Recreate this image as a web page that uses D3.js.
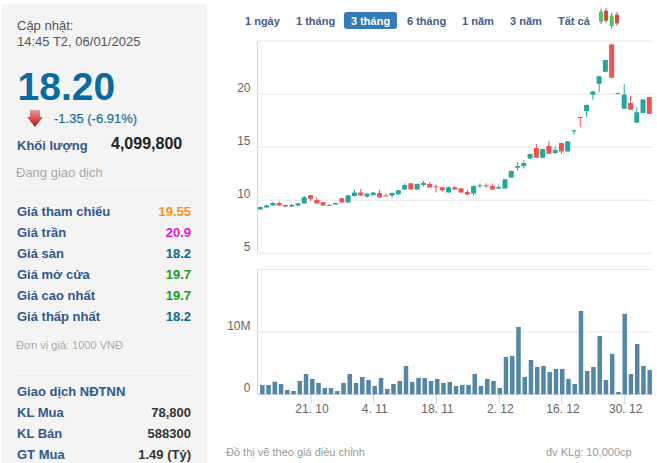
<!DOCTYPE html>
<html>
<head>
<meta charset="utf-8">
<style>
body { margin: 0; background: #fff; }
svg { display: block; font-family: "Liberation Sans", Arial, sans-serif; }
</style>
</head>
<body>
<svg width="657" height="463"></svg>
<script src="https://d3js.org/d3.v7.min.js"></script>
<script>

// sessions, 9.10.2024 - 6.1.2025
var dates = ["9. 10","10. 10","11. 10","14. 10","15. 10","16. 10","17. 10","18. 10","21. 10","22. 10","23. 10","24. 10","25. 10",
    "28. 10","29. 10","30. 10","31. 10","1. 11","4. 11","5. 11","6. 11","7. 11","8. 11","11. 11","12. 11","13. 11","14. 11","15. 11",
    "18. 11","19. 11","20. 11","21. 11","22. 11","25. 11","26. 11","27. 11","28. 11","29. 11","2. 12","3. 12","4. 12","5. 12","6. 12",
    "9. 12","10. 12","11. 12","12. 12","13. 12","16. 12","17. 12","18. 12","19. 12","20. 12","23. 12","24. 12","25. 12","26. 12","27. 12",
    "30. 12","31. 12","2. 1","3. 1","6. 1"];
var opens = [9.12,9.31,9.5,9.75,9.56,9.4,9.5,9.69,10.47,10.03,9.81,9.56,9.6,10.19,9.78,10.4,10.72,10.34,10.47,10.69,10.44,10.44,10.56,11.0,11.6,11.0,11.44,11.54,
    11.32,11.22,10.72,11.22,11.13,10.78,10.63,11.32,11.41,11.35,11.1,11.1,12.13,13.07,13.23,13.92,14.92,14.01,15.1,14.45,15.39,14.58,16.52,17.84,18.4,19.94,20.97,22.1,24.67,
    20.1,18.62,19.15,17.3,18.21,19.72];
var closes = [9.37,9.53,9.75,9.5,9.4,9.56,9.72,10.28,10.13,9.69,9.5,9.5,9.75,9.78,10.47,10.72,10.44,10.63,10.72,10.25,10.38,10.69,10.94,11.44,11.0,11.54,11.63,11.19,
    11.25,10.94,11.22,11.0,10.72,10.53,11.35,11.41,11.32,11.0,11.25,11.97,12.76,13.23,13.5,14.36,14.01,14.83,14.39,14.73,14.58,15.55,16.6,17.74,18.97,20.25,21.69,23.2,21.54,
    20.03,19.97,18.53,18.28,19.5,18.15];
var highs = [9.4,9.55,9.85,9.9,9.58,9.65,9.74,10.4,10.5,10.28,9.83,9.65,9.77,10.21,10.49,10.97,11.07,10.65,10.8,10.97,10.66,10.71,10.97,11.6,11.62,11.56,11.82,11.72,
    11.47,11.24,11.3,11.35,11.15,10.97,11.37,11.57,11.6,11.57,11.47,11.99,12.78,13.6,13.79,14.38,15.3,14.85,15.58,15.08,15.41,15.57,16.62,17.86,18.99,20.27,21.71,23.22,24.75,
    20.12,20.94,19.81,18.75,19.52,19.74];
var lows = [9.1,9.29,9.5,9.48,9.38,9.37,9.4,9.67,9.94,9.67,9.48,9.47,9.58,9.76,9.76,10.34,10.42,10.22,10.44,10.23,10.36,10.25,10.5,10.98,10.98,10.98,11.29,11.17,
    10.72,10.82,10.7,10.98,10.7,10.51,10.44,11.16,11.16,10.98,11.08,11.08,12.11,12.79,12.98,13.9,13.99,13.99,14.37,14.36,14.36,14.56,16.18,16.9,17.84,19.47,20.19,22.08,21.52,
    20.01,18.6,18.51,17.28,18.19,18.13];
var volumes = [1.5,1.5,2.0,1.66,0.7,0.53,2.14,3.26,2.46,1.82,1.0,1.0,0.53,1.82,3.26,1.82,2.78,2.3,1.34,2.62,0.86,1.66,2.14,4.55,1.98,2.62,2.62,2.14,2.46,1.82,1.98,
    1.34,1.5,1.5,3.26,1.34,2.46,2.14,1.0,6.0,6.15,10.8,2.78,5.5,4.38,4.55,3.58,4.06,4.06,2.46,1.66,13.37,3.74,4.38,9.36,2.3,6.47,0.37,12.89,3.26,8.07,4.55,3.9];
var dateTicks = ["21. 10","4. 11","18. 11","2. 12","16. 12","30. 12"];
var priceGrid = [5,10,15,20,25];
var priceTicks = [5,10,15,20];
var volumeGrid = [0,10,20];
var volumeTicks = [0,10];

var tabs = ["1 ngày","1 tháng","3 tháng","6 tháng","1 năm","3 năm","Tất cả"];
var tabX = [245,296,351,407,462,510,558];
var activeTab = "3 tháng";

var priceRows = ["Giá tham chiếu","Giá trần","Giá sàn","Giá mở cửa","Giá cao nhất","Giá thấp nhất"];
var priceRowValues = ["19.55","20.9","18.2","19.7","19.7","18.2"];
var priceRowColors = ["#f7941d","#e815d6","#10688f","#1f9a1f","#1f9a1f","#10688f"];
var foreignRows = ["KL Mua","KL Bán","GT Mua"];
var foreignValues = ["78,800","588300","1.49 (Tỷ)"];

var UP = "#26a69a", DOWN = "#ef5350", LABEL = "#33588c";

var svg = d3.select("svg");

// left panel
svg.append("rect").attr("x",2).attr("y",4).attr("width",205).attr("height",459).attr("fill","#f4f4f5");

function txt(x, y, s, size, color, bold, anchor){
    return svg.append("text").attr("x",x).attr("y",y).text(s)
        .style("font-size",size+"px").style("fill",color)
        .style("font-weight",bold ? "bold" : "normal")
        .attr("text-anchor",anchor || "start");
}
txt(17,30,"Cập nhật:",13,"#555");
txt(17,46,"14:45 T2, 06/01/2025",13,"#555");
txt(17.5,100,"18.20",39,"#0b6aa2",true);
txt(54,123,"-1.35 (-6.91%)",13,"#1d6d9a").style("stroke","#1d6d9a").style("stroke-width",0.2);
txt(17,150,"Khối lượng",13,LABEL,true);
txt(111,148.5,"4,099,800",16,"#222",true);
txt(16,177,"Đang giao dịch",13,"#aaa");
svg.append("line").attr("x1",16).attr("x2",193).attr("y1",190.5).attr("y2",190.5).attr("stroke","#ebebeb");

// down arrow, fades from pink to dark red
var arrowFill = svg.append("defs").append("linearGradient").attr("id","arrowFill")
    .attr("x1",0).attr("x2",0).attr("y1",0).attr("y2",1);
arrowFill.append("stop").attr("offset",0).attr("stop-color","#ee9a9a");
arrowFill.append("stop").attr("offset",1).attr("stop-color","#bf0a12");
svg.append("path").attr("d","M30 110h10v7h3l-8 10l-8-10h3z").attr("fill","url(#arrowFill)");

priceRows.forEach(function(r,i){
    txt(17,216+i*21,r,13,LABEL,true);
    txt(191,216+i*21,priceRowValues[i],13,priceRowColors[i],true,"end");
});
txt(16,349,"Đơn vị giá: 1000 VNĐ",11,"#aaa");
svg.append("line").attr("x1",16).attr("x2",193).attr("y1",375.5).attr("y2",375.5).attr("stroke","#ebebeb");
txt(17,396,"Giao dịch NĐTNN",13,LABEL,true);
foreignRows.forEach(function(r,i){
    txt(17,417+i*20.8,r,13,LABEL,true);
    txt(191,417+i*20.8,foreignValues[i],13,"#333",true,"end");
});

// range tabs
svg.append("rect").attr("x",344).attr("y",12).attr("width",53).attr("height",17).attr("rx",3).attr("fill","#337ab7");
tabs.forEach(function(t,i){
    txt(tabX[i],24.5,t,11,t == activeTab ? "#fff" : "#3f5c8d",true);
});

// candle icon next to the tabs
var iconX = [601,606,611.7,617], iconTop = [11.7,10.7,15.7,14.7], iconH = [10,10,10.3,8.6], iconC = ["#57c057","#d8434a","#57c057","#d8434a"];
iconX.forEach(function(x,i){
    svg.append("line").attr("x1",x).attr("x2",x).attr("y1",iconTop[i]-3).attr("y2",iconTop[i]+iconH[i]+2.5).attr("stroke","#777");
    svg.append("rect").attr("x",x-2).attr("y",iconTop[i]).attr("width",4).attr("height",iconH[i]).attr("fill",iconC[i]);
});

// scales
var xPrice = d3.scalePoint().domain(dates).range([260.3,649.3]);
var xVolume = d3.scalePoint().domain(dates).range([262.3,649.7]);
var yPrice = d3.scaleLinear().domain([5,25]).range([253.3,41]);
var yVolume = d3.scaleLinear().domain([0,20]).range([394.3,269.5]);

// grids
function grid(scale, values){
    svg.append("g").selectAll("line").data(values).join("line")
        .attr("x1",257.5).attr("x2",653)
        .attr("y1",function(d){ return scale(d); }).attr("y2",function(d){ return scale(d); })
        .attr("stroke","#e6e6e6");
}
grid(yPrice, priceGrid);
grid(yVolume, volumeGrid);
svg.append("line").attr("x1",257.5).attr("x2",257.5).attr("y1",yPrice(25)).attr("y2",yPrice(5)).attr("stroke","#ccd6eb");
svg.append("line").attr("x1",257.5).attr("x2",257.5).attr("y1",yVolume(20)).attr("y2",yVolume(0)).attr("stroke","#ccd6eb");

// y axes: labels sit just above their grid line
function yAxis(scale, values, fmt){
    var g = svg.append("g").attr("transform","translate(250.5,0)")
        .call(d3.axisLeft(scale).tickValues(values).tickSize(0).tickPadding(0).tickFormat(fmt));
    g.select(".domain").remove();
    g.selectAll("text").attr("dy","-2.5").style("font-size","12px").style("fill","#666")
        .style("font-family","'Liberation Sans', Arial, sans-serif");
}
yAxis(yPrice, priceTicks, function(d){ return d; });
yAxis(yVolume, volumeTicks, function(d){ return d ? d + "M" : "0"; });

// date axis
var xAxis = svg.append("g").attr("transform","translate(1,"+yVolume(0)+")")
    .call(d3.axisBottom(xPrice).tickValues(dateTicks).tickSize(10).tickPadding(0));
xAxis.select(".domain").remove();
xAxis.selectAll("line").attr("stroke","#ccd6eb").attr("transform","translate(-1,0)");
xAxis.selectAll("text").style("font-size","12px").style("fill","#666")
    .style("font-family","'Liberation Sans', Arial, sans-serif");
svg.append("line").attr("x1",257.5).attr("x2",653).attr("y1",yVolume(0)).attr("y2",yVolume(0)).attr("stroke","#ccd6eb");

// candles
var candle = svg.append("g").selectAll("g").data(dates).join("g");
function candleColor(d,i){ return closes[i] >= opens[i] ? UP : DOWN; }
candle.append("line")
    .attr("x1",function(d){ return xPrice(d); }).attr("x2",function(d){ return xPrice(d); })
    .attr("y1",function(d,i){ return yPrice(highs[i]); }).attr("y2",function(d,i){ return yPrice(lows[i]); })
    .attr("stroke",candleColor);
candle.append("rect")
    .attr("x",function(d){ return xPrice(d)-2.5; }).attr("width",5)
    .attr("y",function(d,i){ return yPrice(Math.max(opens[i],closes[i])); })
    .attr("height",function(d,i){ return Math.max(1,Math.abs(yPrice(opens[i])-yPrice(closes[i]))); })
    .attr("rx",0.5)
    .attr("fill",candleColor);

// volume bars
svg.append("g").selectAll("rect").data(dates).join("rect")
    .attr("x",function(d){ return xVolume(d)-2.25; }).attr("width",4.5)
    .attr("y",function(d,i){ return yVolume(volumes[i]); })
    .attr("height",function(d,i){ return yVolume(0)-yVolume(volumes[i]); })
    .attr("fill","#5487a4");

txt(226,456,"Đồ thị vẽ theo giá điều chỉnh",11,"#999");
txt(546,456,"đv KLg: 10,000cp",11,"#999");

</script>
</body>
</html>
